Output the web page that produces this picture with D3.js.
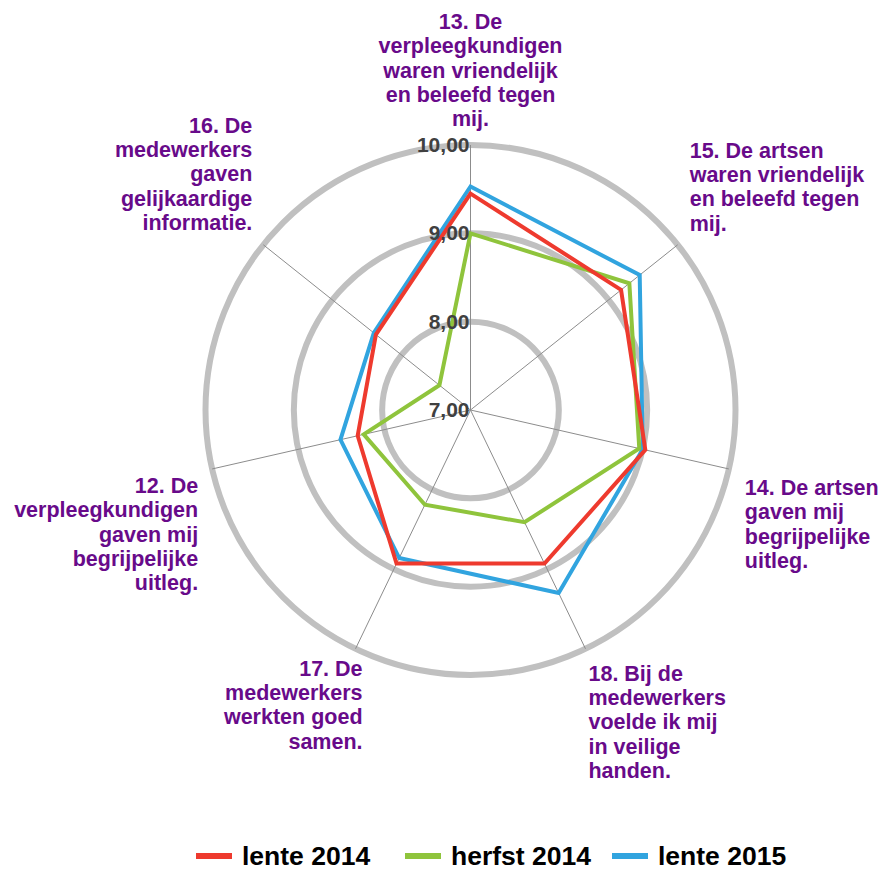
<!DOCTYPE html>
<html>
<head>
<meta charset="utf-8">
<script src="https://cdn.jsdelivr.net/npm/d3@7"></script>
<style>
    body { margin: 0; background: #fff; }
    svg { display: block; font-family: 'Liberation Sans', Arial, sans-serif; }
</style>
</head>
<body>
<svg width="882" height="871"></svg>
<script>
// axes in clockwise order, starting at the top
var questions = [
    ['13. De', 'verpleegkundigen', 'waren vriendelijk', 'en beleefd tegen', 'mij.'],
    ['15. De artsen', 'waren vriendelijk', 'en beleefd tegen', 'mij.'],
    ['14. De artsen', 'gaven mij', 'begrijpelijke', 'uitleg.'],
    ['18. Bij de', 'medewerkers', 'voelde ik mij', 'in veilige', 'handen.'],
    ['17. De', 'medewerkers', 'werkten goed', 'samen.'],
    ['12. De', 'verpleegkundigen', 'gaven mij', 'begrijpelijke', 'uitleg.'],
    ['16. De', 'medewerkers', 'gaven', 'gelijkaardige', 'informatie.']
]
var seriesNames = ['lente 2014', 'herfst 2014', 'lente 2015']
var lente2014 = [9.45, 9.18, 9.03, 8.93, 8.93, 8.31, 8.37]
var herfst2014 = [9.00, 9.30, 8.96, 8.41, 8.19, 8.24, 7.45]
var lente2015 = [9.53, 9.45, 9.00, 9.30, 8.86, 8.51, 8.40]
var ticks = [7, 8, 9, 10]

var colors = ['#ee3a2e', '#8fc43c', '#31a4df']
var series = [lente2014, herfst2014, lente2015]

var svg = d3.select('svg')
var cx = 470.5
var cy = 410
var outerR = 265

var r = d3.scaleLinear()
    .domain([7, 10])
    .range([0, outerR])

var step = 2 * Math.PI / questions.length
var nl = d3.formatLocale({ decimal: ',', thousands: '.', grouping: [3], currency: ['', ''] })
var fmt = nl.format('.2f')

var g = svg.append('g')
    .attr('transform', 'translate(' + cx + ',' + cy + ')')

// grid rings
g.selectAll('.ring')
    .data(ticks.slice(1))
    .enter()
    .append('circle')
    .attr('class', 'ring')
    .attr('r', d => r(d))
    .attr('fill', 'none')
    .attr('stroke', '#c0c0c0')
    .attr('stroke-width', 6)

// spokes
g.selectAll('.spoke')
    .data(questions)
    .enter()
    .append('line')
    .attr('class', 'spoke')
    .attr('x1', 0)
    .attr('y1', 0)
    .attr('x2', (d, i) => outerR * Math.sin(i * step))
    .attr('y2', (d, i) => -outerR * Math.cos(i * step))
    .attr('stroke', '#8c8c8c')
    .attr('stroke-width', 1)

// series (red drawn last, on top)
var radarLine = d3.lineRadial()
    .angle((d, i) => i * step)
    .radius(d => r(d))
    .curve(d3.curveLinearClosed)

var order = [2, 1, 0]
g.selectAll('.serie')
    .data(order)
    .enter()
    .append('path')
    .attr('class', 'serie')
    .attr('d', k => radarLine(series[k]))
    .attr('fill', 'none')
    .attr('stroke', k => colors[k])
    .attr('stroke-width', 4)
    .attr('stroke-linejoin', 'miter')

// tick labels
g.selectAll('.tick')
    .data(ticks)
    .enter()
    .append('text')
    .attr('class', 'tick')
    .attr('x', -1)
    .attr('y', d => -r(d) + 7)
    .attr('text-anchor', 'end')
    .attr('font-size', 21)
    .attr('font-weight', 'bold')
    .attr('fill', '#404040')
    .text(d => fmt(d))

// question labels: anchor and offset from the spoke end
var labelLayout = [
    { anchor: 'middle', dx: 0, dy: -116 },
    { anchor: 'start', dx: 12, dy: -87 },
    { anchor: 'start', dx: 16, dy: 26 },
    { anchor: 'start', dx: 3, dy: 32 },
    { anchor: 'end', dx: 7, dy: 27 },
    { anchor: 'end', dx: -14, dy: 24 },
    { anchor: 'end', dx: -11, dy: -112 }
]

var labels = g.selectAll('.qlabel')
    .data(questions)
    .enter()
    .append('text')
    .attr('class', 'qlabel')
    .attr('text-anchor', (d, i) => labelLayout[i].anchor)
    .attr('font-size', 21.5)
    .attr('font-weight', 'bold')
    .attr('fill', '#680a8a')

labels.each(function(d, i) {
    var x = outerR * Math.sin(i * step) + labelLayout[i].dx
    var y = -outerR * Math.cos(i * step) + labelLayout[i].dy
    d3.select(this).selectAll('tspan')
        .data(d)
        .enter()
        .append('tspan')
        .attr('x', x)
        .attr('y', (t, j) => y + j * 24.3)
        .text(t => t)
})

// legend
var legendX = [196, 405, 612]
var legend = svg.append('g')
    .attr('class', 'legend')
    .selectAll('g')
    .data(seriesNames)
    .enter()
    .append('g')
    .attr('transform', (d, i) => 'translate(' + legendX[i] + ',856)')

legend.append('line')
    .attr('x1', 0)
    .attr('x2', 36)
    .attr('stroke', (d, i) => colors[i])
    .attr('stroke-width', 6)

legend.append('text')
    .attr('x', 46)
    .attr('y', 9)
    .attr('font-size', 26.5)
    .attr('font-weight', 'bold')
    .attr('fill', '#000')
    .text(d => d)
</script>
</body>
</html>
